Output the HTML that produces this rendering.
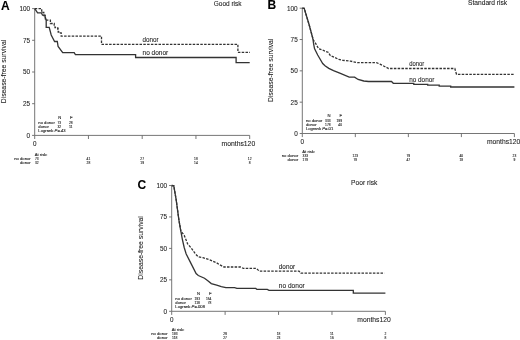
<!DOCTYPE html>
<html><head><meta charset="utf-8"><style>
html,body{margin:0;padding:0;background:#fff;width:520px;height:340px;overflow:hidden}
svg{display:block;will-change:transform}
text{font-family:"Liberation Sans", sans-serif;fill:#222;stroke:#222;stroke-width:0.08px}
text.s{stroke-width:0.12px;fill:#222;stroke:#222}
</style></head><body>
<svg width="520" height="340" viewBox="0 0 520 340">

<g id="pA"><path d="M34.7,8.6 V135.4 H249.7" fill="none" stroke="#666" stroke-width="0.9"/>
<path d="M32.1,135.40 H34.7 M32.1,103.70 H34.7 M32.1,72.00 H34.7 M32.1,40.30 H34.7 M32.1,8.60 H34.7 M34.70,135.4 V139.0 M88.45,135.4 V139.0 M142.20,135.4 V139.0 M195.95,135.4 V139.0 M249.70,135.4 V139.0 " fill="none" stroke="#666" stroke-width="0.9"/>
<text x="30.10" y="137.80" font-size="6.4" text-anchor="end" font-weight="normal">0</text>
<text x="30.10" y="106.10" font-size="6.4" text-anchor="end" font-weight="normal">25</text>
<text x="30.10" y="74.40" font-size="6.4" text-anchor="end" font-weight="normal">50</text>
<text x="30.10" y="42.70" font-size="6.4" text-anchor="end" font-weight="normal">75</text>
<text x="30.10" y="11.00" font-size="6.4" text-anchor="end" font-weight="normal">100</text>
<text x="34.70" y="146.30" font-size="6.3" text-anchor="middle" font-weight="normal">0</text>
<text x="221.50" y="146.00" font-size="6.6" textLength="33.70" lengthAdjust="spacingAndGlyphs">months120</text>
<text x="0" y="0" font-size="6.8" text-anchor="middle" transform="translate(5.70,71.50) rotate(-90)">Disease-free survival</text>
<text x="1.10" y="9.60" font-size="12" text-anchor="start" font-weight="bold" style="fill:#000;stroke:#000">A</text>
<text x="213.70" y="5.70" font-size="6.4" textLength="27.90" lengthAdjust="spacingAndGlyphs">Good risk</text>
<path d="M34.7,8.6 L37.6,12.9 H41.5 L42.5,15.2 H44.7 L46.2,20.2 V27.3 H49.2 L51.2,35 L54.6,41.5 H57.3 L58.1,46.5 L62.7,52.7 H74.2 L75.4,54.6 H135.6 V57.5 H236.1 V62.7 H249.7" fill="none" stroke="#333" stroke-width="1.3" stroke-linejoin="miter"/>
<path d="M34.7,8.6 H41.7 V12.4 H43.8 V15.5 H45.3 V20.2 H50.4 V23.5 H54.2 V25.2 H55 V27.7 H57.7 V29 H58.2 V32 H60.4 V32.8 H61.2 V36.2 H101.5 V44.4 H237.9 V52.4 H250" fill="none" stroke="#333" stroke-width="1.3" stroke-dasharray="2.5 1.3"/>
<text x="142.50" y="42.10" font-size="6.5" textLength="16.00" lengthAdjust="spacingAndGlyphs">donor</text>
<text x="142.50" y="55.10" font-size="6.5" textLength="25.80" lengthAdjust="spacingAndGlyphs">no donor</text>
<text x="61.20" y="118.71" font-size="4.2" text-anchor="end" font-weight="normal" class="s">N</text>
<text x="72.60" y="118.71" font-size="4.2" text-anchor="end" font-weight="normal" class="s">F</text>
<text x="38.30" y="124.11" font-size="4.2" text-anchor="start" font-weight="normal" class="s">no donor</text>
<text class="s" x="57.50" y="124.11" font-size="4.2" textLength="3.70" lengthAdjust="spacingAndGlyphs">73</text>
<text class="s" x="68.90" y="124.11" font-size="4.2" textLength="3.70" lengthAdjust="spacingAndGlyphs">28</text>
<text x="38.30" y="128.31" font-size="4.2" text-anchor="start" font-weight="normal" class="s">donor</text>
<text class="s" x="57.50" y="128.31" font-size="4.2" textLength="3.70" lengthAdjust="spacingAndGlyphs">32</text>
<text class="s" x="68.90" y="128.31" font-size="4.2" textLength="3.70" lengthAdjust="spacingAndGlyphs">11</text>
<text x="38.30" y="132.11" font-size="4.2" text-anchor="start" font-weight="normal" class="s">Logrank <tspan font-style="italic">P</tspan>=.43</text>
<text x="34.70" y="155.81" font-size="4.2" text-anchor="start" font-weight="normal" class="s">At risk:</text>
<text x="30.70" y="160.01" font-size="4.2" text-anchor="end" font-weight="normal" class="s">no donor</text>
<text x="30.70" y="164.31" font-size="4.2" text-anchor="end" font-weight="normal" class="s">donor</text>
<text class="s" x="35.00" y="160.01" font-size="4.2" textLength="3.70" lengthAdjust="spacingAndGlyphs">73</text>
<text class="s" x="86.60" y="160.01" font-size="4.2" textLength="3.70" lengthAdjust="spacingAndGlyphs">41</text>
<text class="s" x="140.35" y="160.01" font-size="4.2" textLength="3.70" lengthAdjust="spacingAndGlyphs">27</text>
<text class="s" x="194.10" y="160.01" font-size="4.2" textLength="3.70" lengthAdjust="spacingAndGlyphs">18</text>
<text class="s" x="247.85" y="160.01" font-size="4.2" textLength="3.70" lengthAdjust="spacingAndGlyphs">12</text>
<text class="s" x="35.00" y="164.31" font-size="4.2" textLength="3.70" lengthAdjust="spacingAndGlyphs">32</text>
<text class="s" x="86.60" y="164.31" font-size="4.2" textLength="3.70" lengthAdjust="spacingAndGlyphs">28</text>
<text class="s" x="140.35" y="164.31" font-size="4.2" textLength="3.70" lengthAdjust="spacingAndGlyphs">19</text>
<text class="s" x="194.10" y="164.31" font-size="4.2" textLength="3.70" lengthAdjust="spacingAndGlyphs">14</text>
<text class="s" x="248.77" y="164.31" font-size="4.2" textLength="1.85" lengthAdjust="spacingAndGlyphs">8</text></g>
<g id="pB"><path d="M302.3,8.2 V133.5 H514.4" fill="none" stroke="#666" stroke-width="0.9"/>
<path d="M299.7,133.50 H302.3 M299.7,102.17 H302.3 M299.7,70.85 H302.3 M299.7,39.53 H302.3 M299.7,8.20 H302.3 M302.30,133.5 V137.1 M355.32,133.5 V137.1 M408.35,133.5 V137.1 M461.38,133.5 V137.1 M514.40,133.5 V137.1 " fill="none" stroke="#666" stroke-width="0.9"/>
<text x="297.70" y="135.90" font-size="6.4" text-anchor="end" font-weight="normal">0</text>
<text x="297.70" y="104.58" font-size="6.4" text-anchor="end" font-weight="normal">25</text>
<text x="297.70" y="73.25" font-size="6.4" text-anchor="end" font-weight="normal">50</text>
<text x="297.70" y="41.93" font-size="6.4" text-anchor="end" font-weight="normal">75</text>
<text x="297.70" y="10.60" font-size="6.4" text-anchor="end" font-weight="normal">100</text>
<text x="302.30" y="144.40" font-size="6.3" text-anchor="middle" font-weight="normal">0</text>
<text x="486.90" y="143.80" font-size="6.6" textLength="33.50" lengthAdjust="spacingAndGlyphs">months120</text>
<text x="0" y="0" font-size="6.8" text-anchor="middle" transform="translate(273.30,70.35) rotate(-90)">Disease-free survival</text>
<text x="267.60" y="8.90" font-size="12" text-anchor="start" font-weight="bold" style="fill:#000;stroke:#000">B</text>
<text x="468.00" y="4.80" font-size="6.4" textLength="39.20" lengthAdjust="spacingAndGlyphs">Standard risk</text>
<path d="M302.3,8.2 L304.2,8.3 L309.2,25 L313,39.4 L313.5,43.2 L314.5,48.5 L317.7,55 L322.7,63.6 L325,65.7 L328.8,68.4 L333.5,70.7 L340.4,73.4 L349.2,77.1 H354.6 L358.1,79.5 L363.8,81 L368.5,81.5 H391.5 L393.3,83.3 H413.8 V84.4 H427.7 V85.2 H439.2 V86.2 H450.7 V87 H514.4" fill="none" stroke="#333" stroke-width="1.3" stroke-linejoin="miter"/>
<path d="M302.3,8.2 L304.2,8.3 L309.2,25 L313.3,39.8 L316.2,44.4 L318.6,48.8 L322.1,49.7 L325.1,51.2 L328.1,52.2 L330.4,55.7 L334.2,57.2 L338.8,59.5 L342.7,60.3 L350.4,61.1 L357.3,62.6 H376.5 L380,64.2 L384.6,66.5 L388.6,68.5 H454.8 L456.5,74.3 H514.4" fill="none" stroke="#333" stroke-width="1.3" stroke-dasharray="2.5 1.3"/>
<text x="409.20" y="66.00" font-size="6.5" textLength="15.10" lengthAdjust="spacingAndGlyphs">donor</text>
<text x="409.20" y="81.80" font-size="6.5" textLength="25.20" lengthAdjust="spacingAndGlyphs">no donor</text>
<text x="330.65" y="116.81" font-size="4.2" text-anchor="end" font-weight="normal" class="s">N</text>
<text x="342.05" y="116.81" font-size="4.2" text-anchor="end" font-weight="normal" class="s">F</text>
<text x="305.90" y="122.21" font-size="4.2" text-anchor="start" font-weight="normal" class="s">no donor</text>
<text class="s" x="325.10" y="122.21" font-size="4.2" textLength="5.55" lengthAdjust="spacingAndGlyphs">333</text>
<text class="s" x="336.50" y="122.21" font-size="4.2" textLength="5.55" lengthAdjust="spacingAndGlyphs">199</text>
<text x="305.90" y="126.41" font-size="4.2" text-anchor="start" font-weight="normal" class="s">donor</text>
<text class="s" x="325.10" y="126.41" font-size="4.2" textLength="5.55" lengthAdjust="spacingAndGlyphs">178</text>
<text class="s" x="338.35" y="126.41" font-size="4.2" textLength="3.70" lengthAdjust="spacingAndGlyphs">40</text>
<text x="305.90" y="130.21" font-size="4.2" text-anchor="start" font-weight="normal" class="s">Logrank <tspan font-style="italic">P</tspan>=.01</text>
<text x="302.30" y="153.21" font-size="4.2" text-anchor="start" font-weight="normal" class="s">At risk:</text>
<text x="298.30" y="157.31" font-size="4.2" text-anchor="end" font-weight="normal" class="s">no donor</text>
<text x="298.30" y="161.41" font-size="4.2" text-anchor="end" font-weight="normal" class="s">donor</text>
<text class="s" x="302.60" y="157.31" font-size="4.2" textLength="5.55" lengthAdjust="spacingAndGlyphs">333</text>
<text class="s" x="352.55" y="157.31" font-size="4.2" textLength="5.55" lengthAdjust="spacingAndGlyphs">123</text>
<text class="s" x="406.50" y="157.31" font-size="4.2" textLength="3.70" lengthAdjust="spacingAndGlyphs">79</text>
<text class="s" x="459.52" y="157.31" font-size="4.2" textLength="3.70" lengthAdjust="spacingAndGlyphs">40</text>
<text class="s" x="512.55" y="157.31" font-size="4.2" textLength="3.70" lengthAdjust="spacingAndGlyphs">23</text>
<text class="s" x="302.60" y="161.41" font-size="4.2" textLength="5.55" lengthAdjust="spacingAndGlyphs">178</text>
<text class="s" x="353.47" y="161.41" font-size="4.2" textLength="3.70" lengthAdjust="spacingAndGlyphs">78</text>
<text class="s" x="406.50" y="161.41" font-size="4.2" textLength="3.70" lengthAdjust="spacingAndGlyphs">47</text>
<text class="s" x="459.52" y="161.41" font-size="4.2" textLength="3.70" lengthAdjust="spacingAndGlyphs">18</text>
<text class="s" x="513.48" y="161.41" font-size="4.2" textLength="1.85" lengthAdjust="spacingAndGlyphs">9</text></g>
<g id="pC"><path d="M171.7,185.5 V311.3 H385.4" fill="none" stroke="#666" stroke-width="0.9"/>
<path d="M169.1,311.30 H171.7 M169.1,279.85 H171.7 M169.1,248.40 H171.7 M169.1,216.95 H171.7 M169.1,185.50 H171.7 M171.70,311.3 V314.90000000000003 M225.12,311.3 V314.90000000000003 M278.55,311.3 V314.90000000000003 M331.98,311.3 V314.90000000000003 M385.40,311.3 V314.90000000000003 " fill="none" stroke="#666" stroke-width="0.9"/>
<text x="167.10" y="313.70" font-size="6.4" text-anchor="end" font-weight="normal">0</text>
<text x="167.10" y="282.25" font-size="6.4" text-anchor="end" font-weight="normal">25</text>
<text x="167.10" y="250.80" font-size="6.4" text-anchor="end" font-weight="normal">50</text>
<text x="167.10" y="219.35" font-size="6.4" text-anchor="end" font-weight="normal">75</text>
<text x="167.10" y="187.90" font-size="6.4" text-anchor="end" font-weight="normal">100</text>
<text x="171.70" y="322.20" font-size="6.3" text-anchor="middle" font-weight="normal">0</text>
<text x="357.30" y="321.80" font-size="6.6" textLength="33.50" lengthAdjust="spacingAndGlyphs">months120</text>
<text x="0" y="0" font-size="6.8" text-anchor="middle" transform="translate(142.70,247.90) rotate(-90)">Disease-free survival</text>
<text x="137.40" y="188.70" font-size="12" text-anchor="start" font-weight="bold" style="fill:#000;stroke:#000">C</text>
<text x="351.10" y="184.60" font-size="6.4" textLength="26.20" lengthAdjust="spacingAndGlyphs">Poor risk</text>
<path d="M171.7,185.5 L173.8,185.8 L176.2,200 L178.9,220 L180.8,230.8 L182.5,240 L184.2,247.5 L186.1,253.8 L190.7,262.9 L196.1,273.6 L198.3,275.5 L204.5,278.2 L207.5,280.5 L211.3,283.6 L216.7,285.1 L221.3,286.6 L225.9,287.7 H234.6 L236.9,288.4 H255.8 L256.9,289.4 H267.3 L269,290.3 H353.3 V293.2 H385.4" fill="none" stroke="#333" stroke-width="1.3" stroke-linejoin="miter"/>
<path d="M171.7,185.5 L173.8,185.8 L176.2,200 L178.9,220 L180.8,230.8 L181.9,232.3 L184.2,235.4 L186.1,240 L187.6,243.8 L191.5,248.4 L195.3,253.8 L198.3,256.8 L202.9,257.6 L209.8,259.9 L216.7,262.9 L220.5,265.2 L224,267 H240.4 L243.3,268.3 H256.3 L259.2,271.1 H299 L300.7,273.1 H384.4" fill="none" stroke="#333" stroke-width="1.3" stroke-dasharray="2.5 1.3"/>
<text x="278.80" y="268.80" font-size="6.5" textLength="16.30" lengthAdjust="spacingAndGlyphs">donor</text>
<text x="278.80" y="288.40" font-size="6.5" textLength="26.00" lengthAdjust="spacingAndGlyphs">no donor</text>
<text x="200.05" y="294.61" font-size="4.2" text-anchor="end" font-weight="normal" class="s">N</text>
<text x="211.45" y="294.61" font-size="4.2" text-anchor="end" font-weight="normal" class="s">F</text>
<text x="175.30" y="300.01" font-size="4.2" text-anchor="start" font-weight="normal" class="s">no donor</text>
<text class="s" x="194.50" y="300.01" font-size="4.2" textLength="5.55" lengthAdjust="spacingAndGlyphs">193</text>
<text class="s" x="205.90" y="300.01" font-size="4.2" textLength="5.55" lengthAdjust="spacingAndGlyphs">154</text>
<text x="175.30" y="304.21" font-size="4.2" text-anchor="start" font-weight="normal" class="s">donor</text>
<text class="s" x="194.50" y="304.21" font-size="4.2" textLength="5.55" lengthAdjust="spacingAndGlyphs">118</text>
<text class="s" x="207.75" y="304.21" font-size="4.2" textLength="3.70" lengthAdjust="spacingAndGlyphs">78</text>
<text x="175.30" y="308.01" font-size="4.2" text-anchor="start" font-weight="normal" class="s">Logrank <tspan font-style="italic">P</tspan>=.008</text>
<text x="171.70" y="330.91" font-size="4.2" text-anchor="start" font-weight="normal" class="s">At risk:</text>
<text x="167.70" y="335.21" font-size="4.2" text-anchor="end" font-weight="normal" class="s">no donor</text>
<text x="167.70" y="339.41" font-size="4.2" text-anchor="end" font-weight="normal" class="s">donor</text>
<text class="s" x="172.00" y="335.21" font-size="4.2" textLength="5.55" lengthAdjust="spacingAndGlyphs">193</text>
<text class="s" x="223.28" y="335.21" font-size="4.2" textLength="3.70" lengthAdjust="spacingAndGlyphs">29</text>
<text class="s" x="276.70" y="335.21" font-size="4.2" textLength="3.70" lengthAdjust="spacingAndGlyphs">18</text>
<text class="s" x="330.12" y="335.21" font-size="4.2" textLength="3.70" lengthAdjust="spacingAndGlyphs">11</text>
<text class="s" x="384.47" y="335.21" font-size="4.2" textLength="1.85" lengthAdjust="spacingAndGlyphs">2</text>
<text class="s" x="172.00" y="339.41" font-size="4.2" textLength="5.55" lengthAdjust="spacingAndGlyphs">118</text>
<text class="s" x="223.28" y="339.41" font-size="4.2" textLength="3.70" lengthAdjust="spacingAndGlyphs">27</text>
<text class="s" x="276.70" y="339.41" font-size="4.2" textLength="3.70" lengthAdjust="spacingAndGlyphs">23</text>
<text class="s" x="330.12" y="339.41" font-size="4.2" textLength="3.70" lengthAdjust="spacingAndGlyphs">16</text>
<text class="s" x="384.47" y="339.41" font-size="4.2" textLength="1.85" lengthAdjust="spacingAndGlyphs">8</text></g>
</svg>
</body></html>
